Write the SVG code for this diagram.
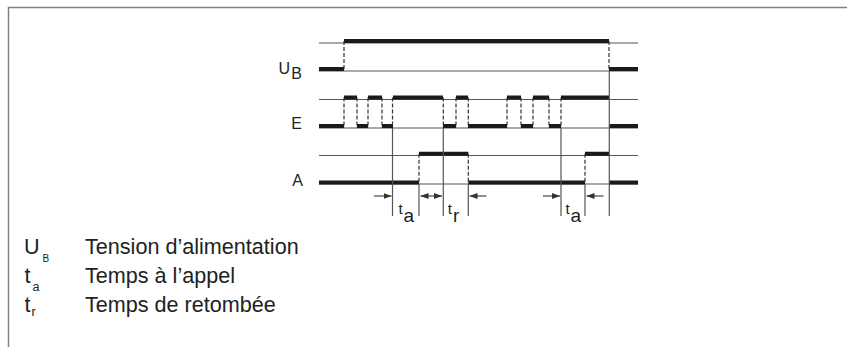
<svg xmlns="http://www.w3.org/2000/svg" width="847" height="347" viewBox="0 0 847 347">
<style>
.frame{fill:none;stroke:#808080;stroke-width:1.5}
.ref{fill:none;stroke:#555;stroke-width:1.1}
.sig{fill:none;stroke:#1a1a1a;stroke-width:4;stroke-linecap:butt}
.dash{fill:none;stroke:#333;stroke-width:1.2;stroke-dasharray:4 2}
.vl{fill:none;stroke:#555;stroke-width:1.2}
.arr{fill:none;stroke:#333;stroke-width:1.1}
text{font-family:"Liberation Sans",Arial,sans-serif;fill:#222}
.lab{font-size:16px}
.leg{font-size:21.6px}
</style>
<defs>
<marker id="ah" viewBox="0 0 8 6" refX="8" refY="3" markerWidth="8" markerHeight="6" markerUnits="userSpaceOnUse" orient="auto-start-reverse">
<path d="M0,0 L8,3 L0,6 z" fill="#333"/>
</marker>
</defs>
<rect width="847" height="347" fill="#fff"/>
<path class="frame" d="M8.5,347 V7.5 H847"/>

<g id="UB">
<path class="ref" d="M319,43 H638 M319,71 H638"/>
<path class="sig" d="M319,69 H344 M344,41 H609 M609,69 H638"/>
<path class="dash" d="M344,41 V71 M609,41 V71"/>
<text class="lab" x="290" y="74" text-anchor="end">U</text>
<text class="lab" x="302" y="79" text-anchor="end">B</text>
</g>

<g id="E">
<path class="ref" d="M319,99.5 H638 M319,128 H638"/>
<path class="sig" d="M319,126 H344 M344,97.5 H357 M357,126 H368 M368,97.5 H382 M382,126 H393 M393,97.5 H443 M443,126 H456 M456,97.5 H468 M468,126 H507 M507,97.5 H521 M521,126 H533 M533,97.5 H549 M549,126 H561 M561,97.5 H609 M609,126 H638"/>
<path class="dash" d="M344,97.5 V128 M357,97.5 V128 M368,97.5 V128 M382,97.5 V128 M392.5,97.5 V128 M443.3,97.5 V128 M456,97.5 V128 M468.3,97.5 V128 M507,97.5 V128 M521,97.5 V128 M533,97.5 V128 M549,97.5 V128 M561,97.5 V128"/>
<text class="lab" x="302" y="129" text-anchor="end" font-size="16.5">E</text>
</g>

<g id="A">
<path class="ref" d="M319,155.5 H638 M319,184 H638"/>
<path class="sig" d="M319,182.5 H419 M419,153.7 H468.3 M468.3,182.5 H585 M585,153.7 H609 M609,182.5 H638"/>
<path class="dash" d="M419,153.7 V184 M468.3,153.7 V184 M585,153.7 V184"/>
<text class="lab" x="303" y="186" text-anchor="end" font-size="16.5">A</text>
</g>

<g id="connectors">
<path class="vl" d="M392.5,128 V216 M443.3,128 V216 M561,128 V216 M609.3,71 V216 M419,184 V216 M468.3,184 V216 M585,184 V216"/>
<line class="arr" x1="374" y1="196" x2="391.5" y2="196" marker-end="url(#ah)"/>
<line class="arr" x1="420.5" y1="196" x2="442" y2="196" marker-start="url(#ah)" marker-end="url(#ah)"/>
<line class="arr" x1="486.5" y1="196" x2="469.5" y2="196" marker-end="url(#ah)"/>
<line class="arr" x1="543" y1="196" x2="560" y2="196" marker-end="url(#ah)"/>
<line class="arr" x1="603.5" y1="196" x2="586.5" y2="196" marker-end="url(#ah)"/>
</g>

<g id="timelabels">
<text x="398.5" y="214" font-size="15">t</text>
<text x="403.5" y="222" font-size="19">a</text>
<text x="447.8" y="214" font-size="15">t</text>
<text x="453" y="222" font-size="19">r</text>
<text x="565.5" y="214" font-size="15">t</text>
<text x="570.5" y="222" font-size="19">a</text>
</g>

<g id="legend">
<text class="leg" x="24" y="254">U</text>
<text x="42.5" y="262" font-size="10">B</text>
<text class="leg" x="85" y="254">Tension d’alimentation</text>
<text class="leg" x="24.5" y="283">t</text>
<text x="32.5" y="291" font-size="12.5">a</text>
<text class="leg" x="85" y="283">Temps à l’appel</text>
<text class="leg" x="24.5" y="312">t</text>
<text x="31.5" y="316" font-size="12.5">r</text>
<text class="leg" x="85" y="312">Temps de retombée</text>
</g>
</svg>
